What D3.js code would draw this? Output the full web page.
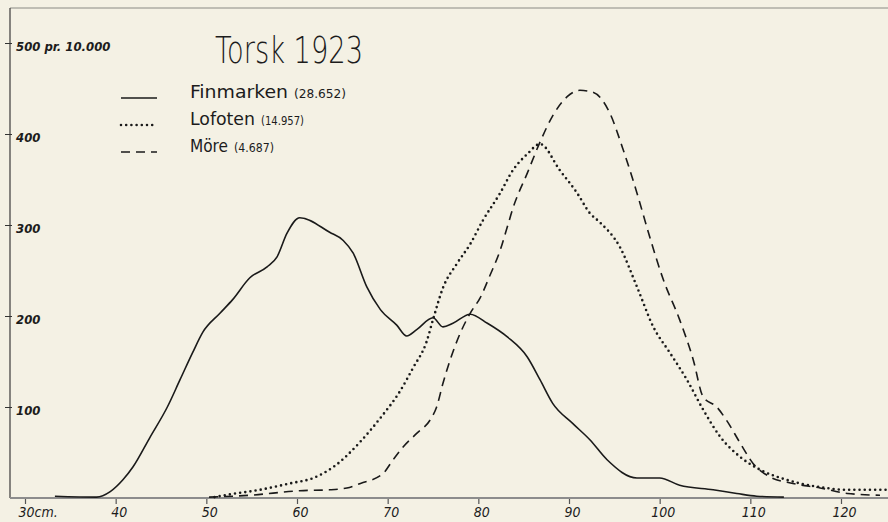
<!DOCTYPE html>
<html lang="no">
    <head>
        <meta charset="UTF-8">
        <title>Torsk 1923</title>
        <script src="https://d3js.org/d3.v7.min.js"></script>
        <style>
            body{ margin:0; background:#f4f1e4; }
            svg{ display:block; background-color:#f4f1e4; }
            text{ font-family:"DejaVu Sans Condensed","DejaVu Sans",sans-serif; fill:#1c1c1c; }
            .thin{ font-family:"DejaVu Sans","DejaVu Sans Condensed",sans-serif; font-weight:200; }
        </style>
    </head>
    <body>
        <script>
            // lengde (cm), antall pr. 10.000
            const finmarken = [[33.3,2],[37.9,1],[39.4,7],[40.8,20],[41.9,34],[43.8,67],[45.7,100],[47.1,130],[48.5,160],[49.6,182],[51.5,203],[52.9,218],[54.8,242],[56.7,254],[57.8,265],[58.9,291],[60.3,308],[63.6,292],[65.1,283],[66.2,269],[67.7,232],[69.2,207],[71.0,190],[72.1,178],[73.2,185],[75.0,198],[76.1,188],[77.2,192],[79.1,202],[81.0,192],[83.2,177],[85.4,155],[86.8,130],[88.2,104],[90.4,82],[92.3,64],[94.2,42],[97.5,22],[100.0,22],[102.2,14],[105.9,9],[108.5,5],[110.7,2],[113.7,1]]
            const lofoten = [[50.9,1],[52.6,4],[55.9,9],[59.2,16],[61.8,22],[64.0,34],[67.0,62],[69.2,88],[71.4,118],[72.8,143],[74.3,172],[75.0,196],[76.1,231],[77.6,257],[79.1,279],[80.5,305],[82.4,335],[83.8,360],[85.4,378],[86.8,389],[89.0,360],[90.9,335],[92.3,313],[93.4,303],[95.6,276],[97.5,232],[99.3,188],[101.1,160],[103.0,130],[104.8,97],[106.7,67],[108.9,45],[111.1,31],[114.0,20],[117.7,12],[120.7,9],[125.2,9]]
            const more = [[50.3,1],[54.8,3],[60.3,8],[63.6,9],[65.5,11],[67.0,16],[69.5,27],[70.6,42],[71.7,56],[73.2,71],[74.7,86],[75.4,100],[76.1,126],[76.9,152],[78.0,181],[79.1,203],[80.2,220],[81.3,245],[82.4,272],[83.2,298],[83.8,318],[85.4,357],[86.8,391],[88.2,420],[89.8,441],[91.2,448],[92.6,446],[94.5,423],[95.9,385],[97.5,335],[98.9,287],[100.4,240],[102.2,196],[103.7,152],[104.8,111],[106.3,100],[107.4,85],[108.9,60],[110.3,38],[112.2,23],[114.7,16],[117.7,11],[120.7,5],[124.3,3]]

            const xTicks = [30,40,50,60,70,80,90,100,110,120]
            const xTickLabels = ["30cm.","40","50","60","70","80","90","100","110","120"]
            const yTicks = [100,200,300,400,500]
            const yTickLabels = ["100","200","300","400","500 pr. 10.000"]

            const legendNames = ["Finmarken","Lofoten","Möre"]
            const legendCounts = ["(28.652)","(14.957)","(4.687)"]

            const width = 888, height = 522
            const svg = d3.select("body").append("svg")
                .attr("width", width).attr("height", height)

            const xScale = d3.scaleLinear().domain([30,120]).range([25,841])
            const yScale = d3.scaleLinear().domain([0,500]).range([498,43])

            // ramme
            svg.append("line").attr("x1",10).attr("x2",width).attr("y1",8).attr("y2",8)
                .attr("stroke","#8a8a84").attr("stroke-width",1)
            svg.append("line").attr("x1",10).attr("x2",10).attr("y1",8).attr("y2",498)
                .attr("stroke","#3a3a3a").attr("stroke-width",1.2)

            // x-akse
            const xAxis = d3.axisBottom(xScale).tickValues(xTicks).tickSize(6)
                .tickFormat((d,i)=>xTickLabels[i])
            const gx = svg.append("g").attr("transform","translate(0,498)").call(xAxis)
            gx.select(".domain").remove()
            gx.selectAll(".tick line").attr("stroke","#555").attr("stroke-width",1.2)
            gx.selectAll(".tick text").attr("font-size",14).attr("font-style","italic")
                .attr("dy","0.9em").attr("y",6)
                .attr("text-anchor",(d,i)=> i==0 ? "start" : "middle")
                .attr("dx",(d,i)=> i==0 ? -7 : 3)
            svg.append("line").attr("x1",10).attr("x2",width).attr("y1",498).attr("y2",498)
                .attr("stroke","#8c8c8c").attr("stroke-width",2.2)

            // y-akse
            const yAxis = d3.axisLeft(yScale).tickValues(yTicks).tickSize(5)
                .tickFormat((d,i)=>yTickLabels[i])
            const gy = svg.append("g").attr("transform","translate(10,0)").call(yAxis)
            gy.select(".domain").remove()
            gy.selectAll(".tick line").attr("x2",-5).attr("x1",2).attr("stroke","#333")
            gy.selectAll(".tick text").attr("x",6).attr("text-anchor","start")
                .attr("font-size",13).attr("font-style","italic").attr("font-weight","bold")
                .attr("dy","0.6em").attr("fill","#222")

            // kurver
            const line = d3.line().x(d=>xScale(d[0])).y(d=>yScale(d[1])).curve(d3.curveMonotoneX)
            const series = [
                {data:finmarken, dash:null, w:1.6, cap:"butt"},
                {data:lofoten, dash:"0,5.2", w:2.6, cap:"round"},
                {data:more, dash:"9,6", w:1.6, cap:"butt"}
            ]
            svg.append("g").selectAll("path").data(series).enter().append("path")
                .attr("d",d=>line(d.data))
                .attr("fill","none")
                .attr("stroke","#1a1a1a")
                .attr("stroke-width",d=>d.w)
                .attr("stroke-linecap",d=>d.cap)
                .attr("stroke-dasharray",d=>d.dash)

            // tittel
            svg.append("text").attr("class","thin").attr("x",215).attr("y",63).text("Torsk 1923")
                .attr("font-size",38).attr("textLength",148).attr("lengthAdjust","spacingAndGlyphs")

            // forklaring
            const legendY = [98,125,152]
            const nameLen = [98,65,38]
            const countLen = [52,43,40]
            const lg = svg.append("g")
            series.forEach((s,i)=>{
                lg.append("line").attr("x1",121).attr("x2",157).attr("y1",legendY[i]).attr("y2",legendY[i])
                    .attr("stroke","#1a1a1a").attr("stroke-width",s.w)
                    .attr("stroke-linecap",s.cap).attr("stroke-dasharray",s.dash)
                lg.append("text").attr("x",190).attr("y",legendY[i]).text(legendNames[i])
                    .attr("font-size",18).attr("textLength",nameLen[i]).attr("lengthAdjust","spacingAndGlyphs")
                lg.append("text").attr("x",190+nameLen[i]+6).attr("y",legendY[i]).text(legendCounts[i])
                    .attr("font-size",13).attr("textLength",countLen[i]).attr("lengthAdjust","spacingAndGlyphs")
            })
        </script>
    </body>
</html>
